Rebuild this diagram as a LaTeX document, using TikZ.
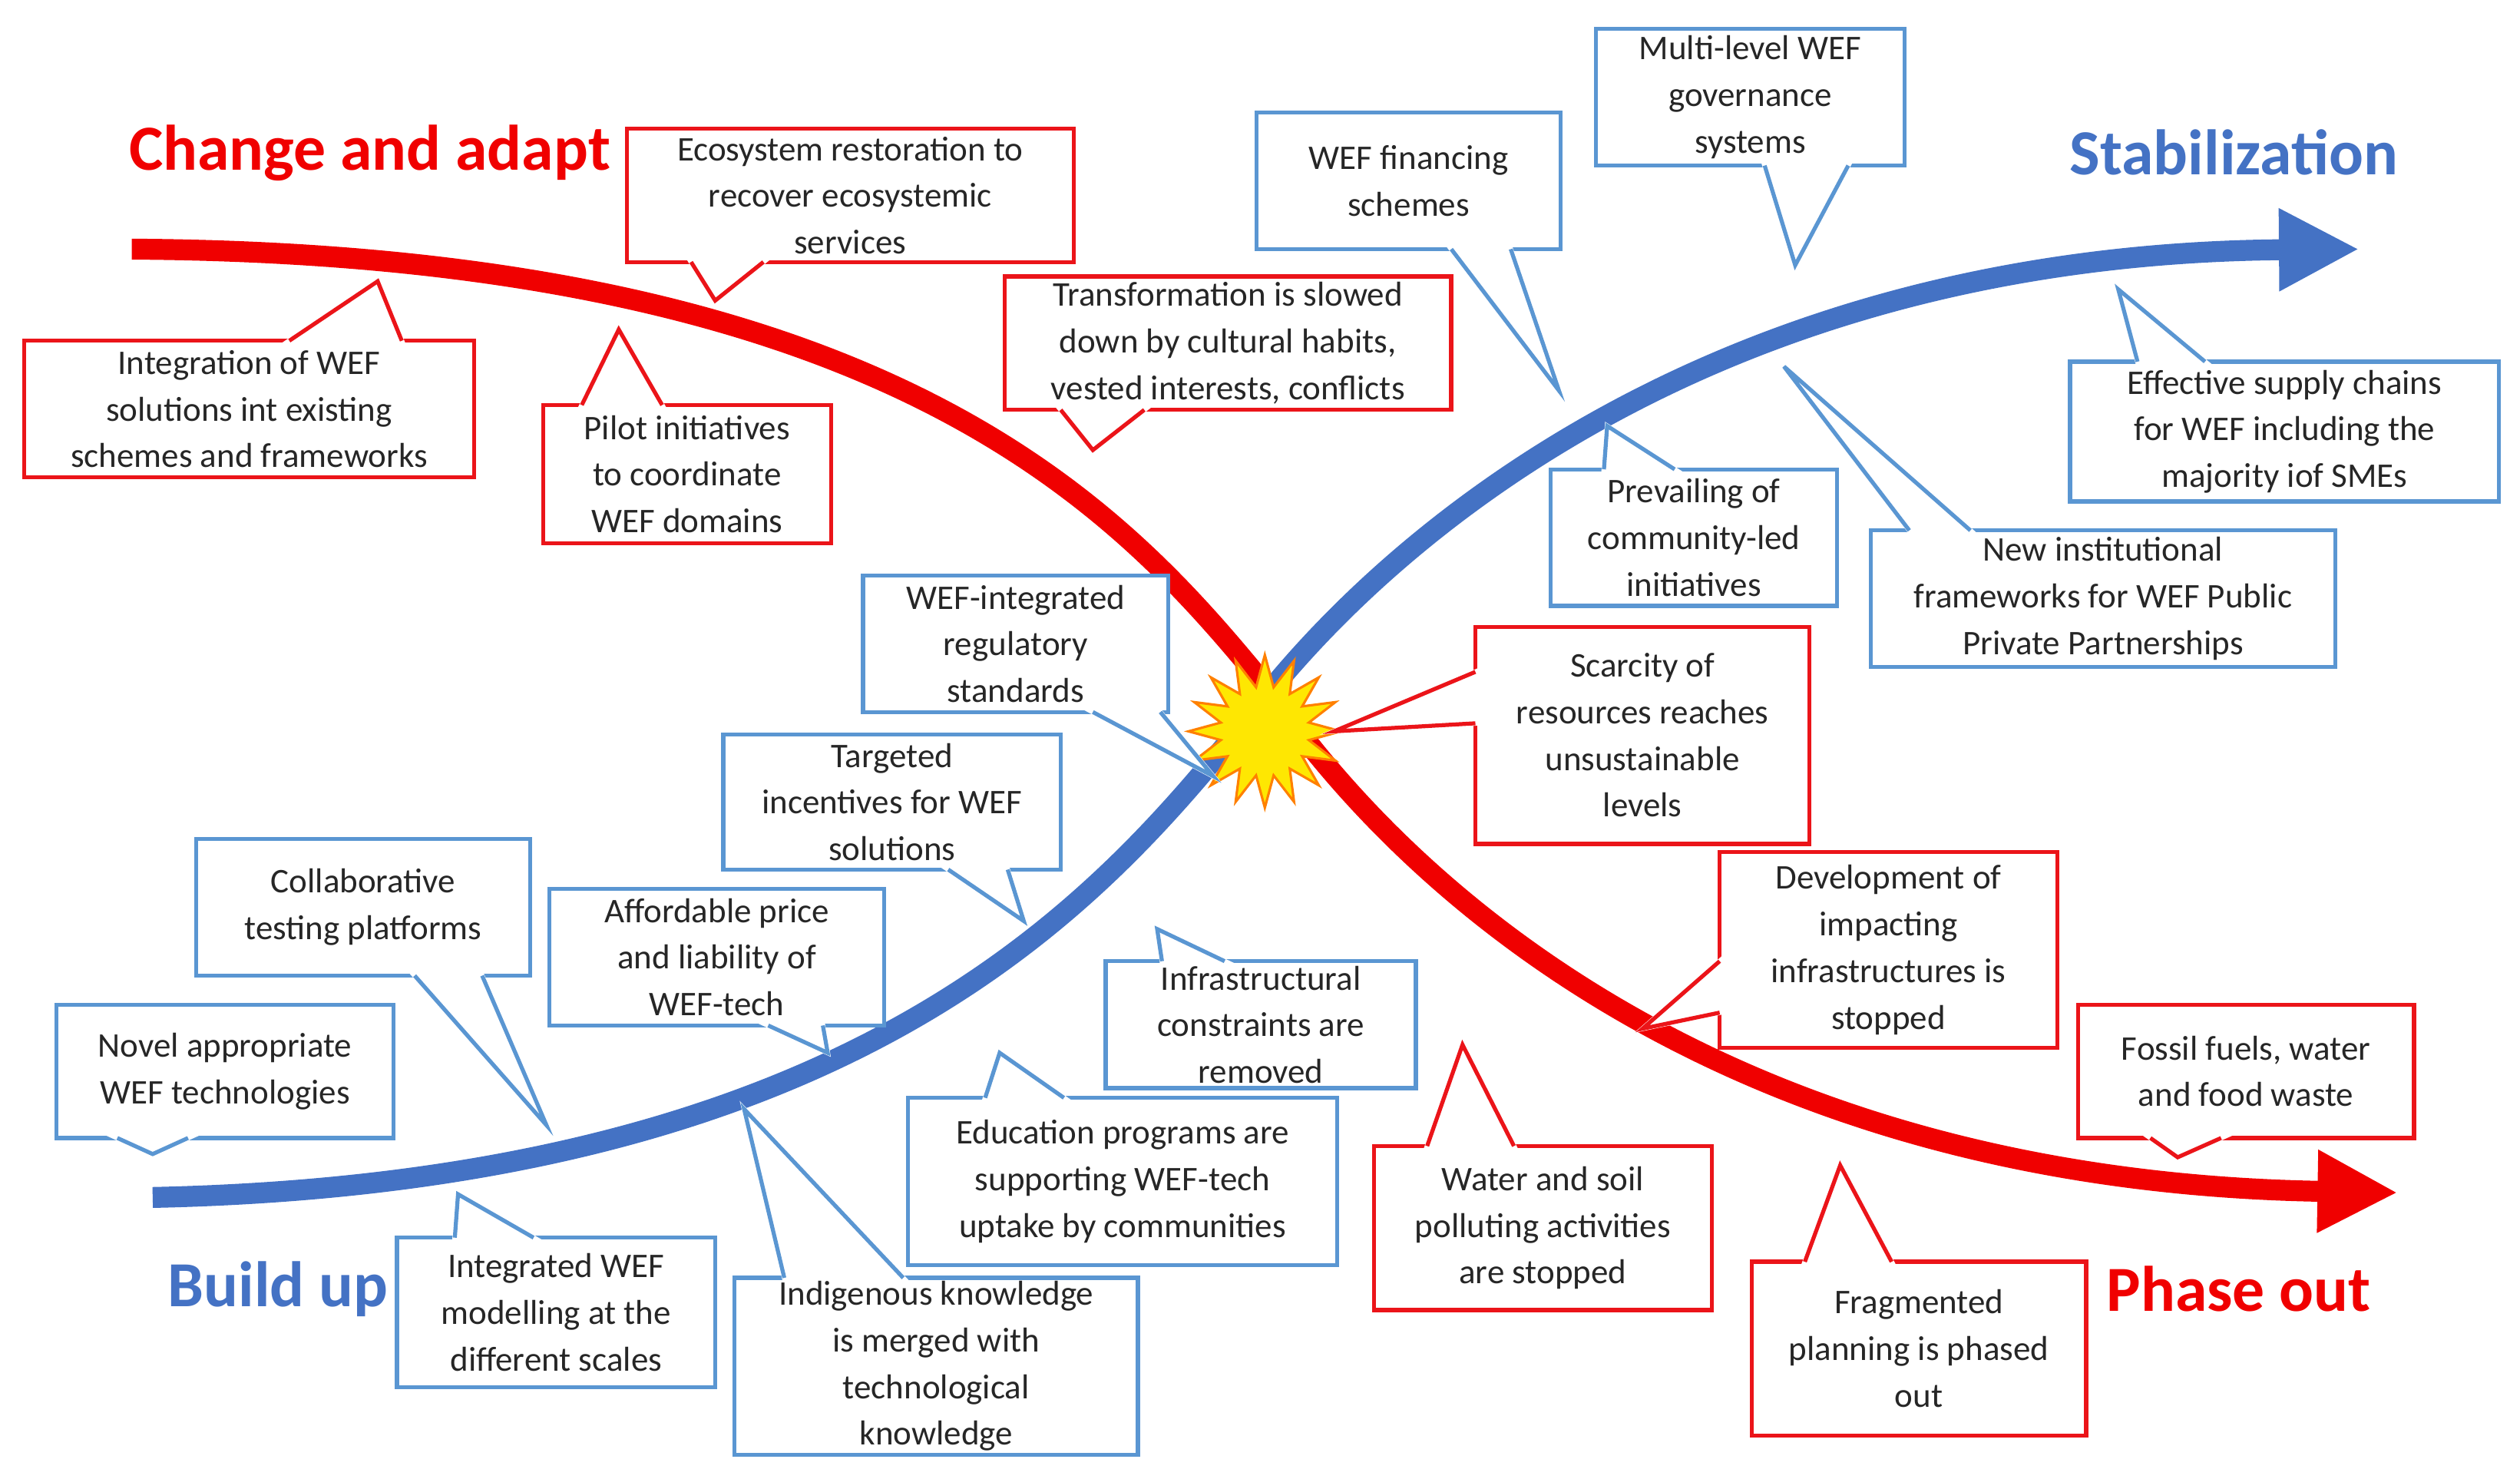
\documentclass[tikz,border=0pt]{standalone}
\usepackage{fontspec}
\setmainfont{Carlito}
\usetikzlibrary{arrows.meta,shapes.geometric}
\definecolor{cred}{RGB}{235,20,25}
\definecolor{cblue}{RGB}{90,150,210}
\definecolor{lred}{RGB}{240,0,0}
\definecolor{lblue}{RGB}{68,114,196}
\tikzset{
  box/.style={draw=#1, fill=white, line width=2.5pt, align=center, inner sep=0pt,
    font=\fontsize{21.5}{29}\selectfont, text=black!85},
  ptr/.style={draw=#1, line width=2.5pt, line join=miter},
  title/.style={font=\fontsize{40}{44}\selectfont\bfseries},
}
\newcommand{\co}[8]{%
  \pgfmathsetmacro\cx{(#3+#5)/2}\pgfmathsetmacro\cy{(#4+#6)/2}%
  \pgfmathsetmacro\bw{#5-#3}\pgfmathsetmacro\bh{#6-#4}%
  \node[box=#2, minimum width=\bw pt, minimum height=\bh pt] (#1) at (\cx,\cy) {#7};
  \filldraw[white, line width=3pt] #8 -- cycle;
  \draw[ptr=#2] #8;
}
\begin{document}
\begin{tikzpicture}[x=1pt,y=-1pt]
\useasboundingbox (0,0) rectangle (1568,920);
\coordinate (rs) at (82,155);
\coordinate (bs) at (95,745);
\coordinate (c) at (790,430);
\coordinate (re) at (1492,742);
\coordinate (be) at (1468,155);
\draw[lred, line width=13pt, -{Triangle[length=50pt,width=48pt]}]
  (rs) .. controls (560,158) and (700,320) .. (c) .. controls (880,560) and (1080,735) .. (re);
\draw[lblue, line width=13pt, -{Triangle[length=50pt,width=48pt]}]
  (bs) .. controls (560,735) and (700,540) .. (c) .. controls (880,320) and (1080,158) .. (be);
\node[star, star points=16, star point ratio=1.7, minimum size=95pt, fill=yellow!90!orange, draw=orange, line width=1.5pt, inner sep=0pt] (star) at (787,455) {};

\node[title, text=lred] (t1) at (230,95) {Change and adapt};
\node[title, text=lblue] (t2) at (1390,95) {Stabilization};
\node[title, text=lblue] (t3) at (173,802) {Build up};
\node[title, text=lred] (t4) at (1393,802) {Phase out};

% red callouts
\co{r1}{cred}{390}{80}{668}{163}{Ecosystem restoration to\\recover ecosystemic\\services}{(430,163)--(445,187)--(475,163)}
\co{r2}{cred}{15}{212}{295}{297}{Integration of WEF\\solutions int existing\\schemes and frameworks}{(180,212)--(235,175)--(250,212)}
\co{r3}{cred}{338}{252}{517}{338}{Pilot initiatives\\to coordinate\\WEF domains}{(362,252)--(385,205)--(412,252)}
\co{r4}{cred}{625}{172}{903}{255}{Transformation is slowed\\down by cultural habits,\\vested interests, conflicts}{(660,255)--(680,280)--(712,255)}
\co{r5}{cred}{918}{390}{1126}{525}{Scarcity of\\resources reaches\\unsustainable\\levels}{(918,418)--(830,455)--(918,450)}
\co{r6}{cred}{1070}{530}{1280}{652}{Development of\\impacting\\infrastructures is\\stopped}{(1070,598)--(1022,640)--(1070,630)}
\co{r7}{cred}{1293}{625}{1502}{708}{Fossil fuels, water\\and food waste}{(1338,708)--(1355,720)--(1382,708)}
\co{r8}{cred}{855}{713}{1065}{815}{Water and soil\\polluting activities\\are stopped}{(888,713)--(910,650)--(942,713)}
\co{r9}{cred}{1090}{785}{1298}{893}{Fragmented\\planning is phased\\out}{(1123,785)--(1145,725)--(1177,785)}

% blue callouts
\co{b1}{cblue}{993}{18}{1185}{103}{Multi-level WEF\\governance\\systems}{(1098,103)--(1117,165)--(1150,103)}
\co{b2}{cblue}{782}{70}{971}{155}{WEF financing\\schemes}{(903,155)--(970,243)--(940,155)}
\co{b3}{cblue}{1288}{225}{1555}{312}{Effective supply chains\\for WEF including the\\majority iof SMEs}{(1330,225)--(1318,180)--(1372,225)}
\co{b4}{cblue}{965}{292}{1143}{377}{Prevailing of\\community-led\\initiatives}{(998,292)--(1000,265)--(1042,292)}
\co{b5}{cblue}{1164}{330}{1453}{415}{New institutional\\frameworks for WEF Public\\Private Partnerships}{(1188,330)--(1110,228)--(1226,330)}
\co{b6}{cblue}{537}{358}{727}{443}{WEF-integrated\\regulatory\\standards}{(680,443)--(755,483)--(722,443)}
\co{b7}{cblue}{450}{457}{660}{541}{Targeted\\incentives for WEF\\solutions}{(590,541)--(637,573)--(627,541)}
\co{b8}{cblue}{122}{522}{330}{607}{Collaborative\\testing platforms}{(258,607)--(340,700)--(300,607)}
\co{b9}{cblue}{342}{553}{550}{638}{Affordable price\\and liability of\\WEF-tech}{(478,638)--(515,655)--(512,638)}
\co{b10}{cblue}{35}{625}{245}{708}{Novel appropriate\\WEF technologies}{(73,708)--(95,718)--(117,708)}
\co{b11}{cblue}{688}{598}{881}{677}{Infrastructural\\constraints are\\removed}{(723,598)--(720,578)--(762,598)}
\co{b12}{cblue}{565}{683}{832}{787}{Education programs are\\supporting WEF-tech\\uptake by communities}{(613,683)--(622,655)--(662,683)}
\co{b13}{cblue}{247}{770}{445}{863}{Integrated WEF\\modelling at the\\different scales}{(283,770)--(285,743)--(332,770)}
\co{b14}{cblue}{457}{795}{708}{905}{Indigenous knowledge\\is merged with\\technological\\knowledge}{(488,795)--(463,690)--(562,795)}
\end{tikzpicture}
\end{document}
